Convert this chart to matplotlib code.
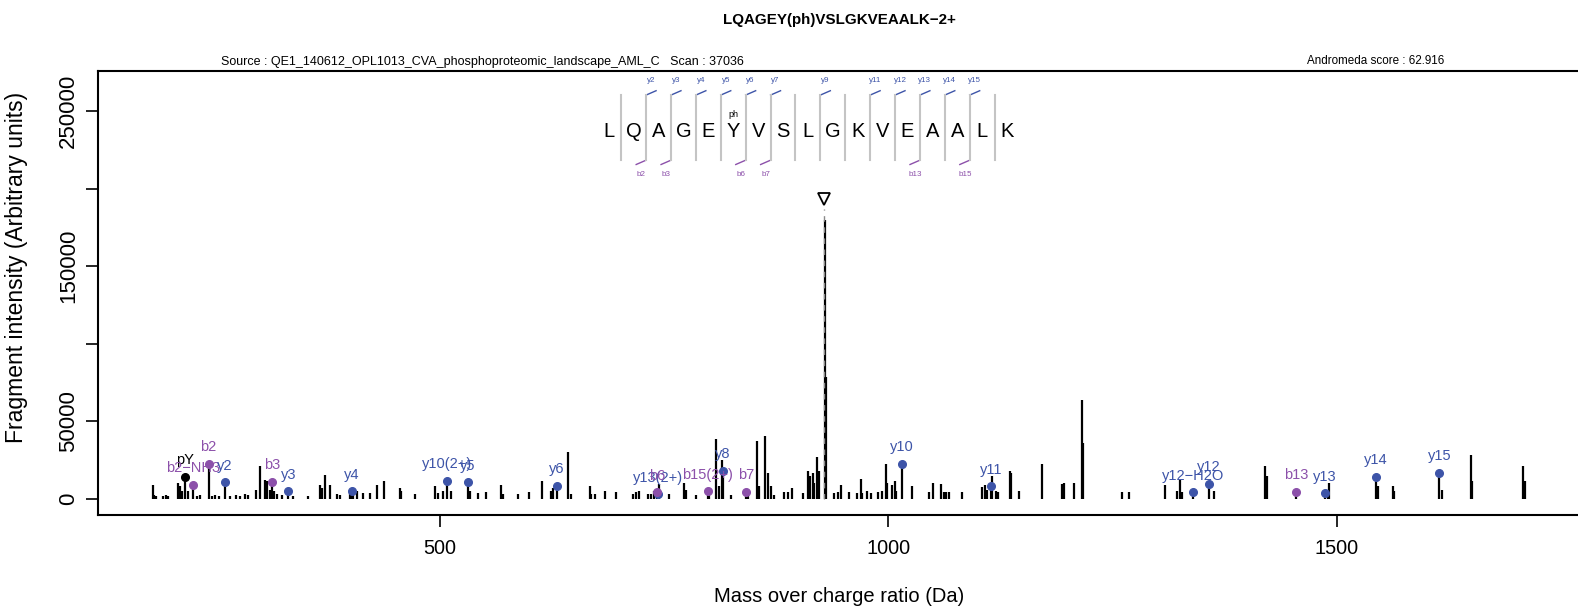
import matplotlib
matplotlib.use("Agg")
import matplotlib.pyplot as plt
import numpy as np

# 谱图峰：质荷比 (Da) 与强度
mz = [180.0, 181.5, 183.8, 191.9, 194.9, 197.5, 208.6, 210.5, 212.3, 216.04,
      219.8, 225.12, 229.0, 232.8, 242.15, 245.7, 249.5, 254.3, 260.20, 266.2,
      272.8, 277.3, 282.9, 286.6, 295.1, 299.6, 305.1, 307.0, 310.7, 313.19,
      315.2, 318.1, 323.7, 331.23, 336.7, 353.4, 366.4, 368.2, 371.9, 377.5,
      384.9, 388.7, 399.8, 402.27, 403.5, 407.2, 414.6, 422.1, 429.5, 438.0,
      455.5, 457.3, 472.2, 494.4, 498.2, 503.7, 508.31, 513.0, 531.31, 533.4,
      542.7, 552.0, 568.7, 570.5, 587.2, 599.5, 614.3, 624.4, 626.2, 630.38,
      642.9, 646.6, 667.1, 668.9, 672.6, 683.8, 696.7, 715.3, 719.0, 722.7,
      732.0, 735.7, 739.4, 742.28, 743.88, 744.6, 756.1, 772.8, 774.7, 785.8,
      798.89, 800.7, 808.1, 811.8, 814.4, 815.50, 824.8, 841.35, 843.4, 853.8,
      856.4, 863.0, 865.7, 869.4, 873.1, 884.2, 887.9, 892.7, 905.3, 910.2,
      912.8, 915.7, 917.6, 920.5, 923.1, 929.3, 930.3, 939.9, 943.6, 947.3,
      956.6, 965.8, 969.5, 971.4, 975.9, 980.7, 989.2, 993.7, 997.4, 999.2,
      1004.8, 1007.4, 1009.3, 1015.61, 1027.1, 1045.6, 1050.1, 1058.6, 1062.3, 1064.2,
      1067.9, 1082.8, 1105.0, 1107.6, 1110.6, 1114.68, 1116.2, 1119.9, 1122.8, 1135.8,
      1137.3, 1145.9, 1171.9, 1194.1, 1196.0, 1207.1, 1216.4, 1217.5, 1260.9, 1268.4,
      1309.2, 1322.2, 1325.2, 1327.8, 1339.70, 1357.71, 1363.0, 1420.5, 1422.4, 1454.69,
      1486.75, 1490.3, 1491.1, 1543.78, 1546.0, 1562.7, 1564.6, 1614.81, 1617.3, 1650.0,
      1651.4, 1708.2, 1710.1]
intensity = [8600, 2600, 1900, 1900, 2600, 1500, 10100, 8000, 4700, 14000,
             4700, 8800, 1900, 2600, 22400, 1900, 2600, 1900, 10500, 1900,
             2600, 1900, 3200, 2600, 5400, 20900, 12300, 11200, 5800, 11000,
             4700, 3200, 2600, 4700, 1900, 1900, 9000, 6900, 15500, 9000,
             3200, 2600, 5800, 4700, 5400, 4700, 3700, 3700, 9000, 11600,
             6900, 4700, 3200, 8000, 3700, 4700, 11400, 5200, 10500, 4700,
             3700, 4100, 9000, 3200, 3200, 4000, 11200, 4700, 6900, 8200,
             30100, 3200, 8400, 3200, 3200, 4700, 4100, 3200, 4100, 4700,
             3200, 3200, 4700, 4100, 2800, 9500, 3200, 10100, 5800, 2600,
             4700, 2600, 38500, 8000, 25200, 17700, 2600, 4500, 3200, 37000,
             8000, 40300, 16600, 8000, 2600, 4100, 4100, 6900, 3700, 17700,
             14400, 16600, 10100, 26900, 17700, 179800, 78600, 3700, 4100, 9000,
             4100, 3700, 12700, 3700, 4700, 3700, 4100, 4700, 22000, 10100,
             9000, 11200, 4700, 22400, 8000, 4100, 10100, 9700, 4100, 4100,
             4100, 4100, 7500, 9000, 5800, 8000, 14400, 4700, 4100, 17700,
             16600, 4700, 22600, 9700, 10100, 10100, 63500, 36000, 4300, 4300,
             9000, 4700, 11800, 4100, 4100, 9500, 5200, 21300, 14400, 4300,
             3400, 2600, 10100, 14200, 8000, 8400, 4700, 16400, 5800, 27800,
             11200, 21300, 11200]

# 已注释的碎片离子
ion_labels = ["pY", "b2\u2212NH3", "b2", "y2", "b3", "y3", "y4", "y10(2+)", "y5", "y6",
              "y13(2+)", "b6", "b15(2+)", "y8", "b7", "y10", "y11", "y12\u2212H2O", "y12",
              "b13", "y13", "y14", "y15"]
ion_mz = [216.04, 225.12, 242.15, 260.20, 313.19, 331.23, 402.27, 508.31, 531.31, 630.38,
          743.88, 742.28, 798.89, 815.50, 841.35, 1015.61, 1114.68, 1339.70, 1357.71,
          1454.69, 1486.75, 1543.78, 1614.81]
ion_int = [14000, 8800, 22400, 10500, 11000, 4700, 4700, 11400, 10500, 8200,
           2800, 4100, 4700, 17700, 4500, 22400, 8000, 4100, 9500,
           4300, 3400, 14200, 16400]
ion_kind = ["imm", "b", "b", "y", "b", "y", "y", "y", "y", "y",
            "y", "b", "b", "y", "b", "y", "y", "y", "y",
            "b", "y", "y", "y"]

# 肽段序列与覆盖
sequence = list("LQAGEYVSLGKVEAALK")
phospho_site = 5
y_cover = [2, 3, 4, 5, 6, 7, 9, 11, 12, 13, 14, 15]
b_cover = [2, 3, 6, 7, 13, 15]
precursor_mz = 928.48

title = "LQAGEY(ph)VSLGKVEAALK\u22122+"
source_text = "Source : QE1_140612_OPL1013_CVA_phosphoproteomic_landscape_AML_C   Scan : 37036"
score_text = "Andromeda score : 62.916"

blue = "#3D54A8"
purple = "#8C50AA"
kind_color = {"y": blue, "b": purple, "imm": "black"}

plt.rcParams['font.family'] = ['Liberation Sans', 'DejaVu Sans']

W, H = 1578, 611
fig = plt.figure(figsize=(W / 100, H / 100), dpi=100)
ax = fig.add_axes([97.9 / W, (H - 515) / H, 1481.9 / W, 443.5 / H])

# 峰
ax.vlines(mz, 0, intensity, color="black", lw=1.6, zorder=2)

# 前体离子标记
ax.vlines([precursor_mz], 0, 187000, color="#8A8A8A", lw=1.0,
          linestyles=(0, (4, 4)), zorder=3)
ax.plot([precursor_mz], [193200], marker="v", ms=9, mfc="white", mec="black",
        mew=1.3, zorder=4)

# 离子点与标签
for lab, x, y, k in zip(ion_labels, ion_mz, ion_int, ion_kind):
    c = kind_color[k]
    ax.plot([x], [y], "o", ms=5.5, color=c, zorder=5)
    ax.annotate(lab, (x, y), xytext=(0, 12), textcoords="offset points",
                ha="center", va="center", color=c, fontsize=10.5, zorder=6)

# 序列示意
x0, step = 688.5, 27.76
y_letter = 236600
y_lo, y_hi = 218300, 260300
dx = 11.1
for i, aa in enumerate(sequence):
    xc = x0 + i * step
    ax.text(xc, y_letter, aa, ha="center", va="center", fontsize=14.5, zorder=6)
    if i == phospho_site:
        ax.text(xc, 247700, "ph", ha="center", va="center", fontsize=6.5)
for k in range(1, len(sequence)):
    xs = x0 + (k - 0.5) * step
    ax.plot([xs, xs], [y_lo, y_hi], color="#C4C4C4", lw=1.5, zorder=3)
    if k in y_cover:
        ax.plot([xs, xs + dx], [y_hi, y_hi + 2800], color=blue, lw=1.0)
        ax.text(xs + dx / 2, 269600, "y%d" % k, ha="center", va="center",
                fontsize=5.8, color=blue)
    if k in b_cover:
        ax.plot([xs, xs - dx], [y_lo, y_lo - 2800], color=purple, lw=1.0)
        ax.text(xs - dx / 2, 209100, "b%d" % k, ha="center", va="center",
                fontsize=5.8, color=purple)

# 坐标轴
r = max(mz) - min(mz)
ax.set_xlim(min(mz) - 0.04 * r, max(mz) + 0.04 * r)
ax.set_ylim(-10600, 275500)
ax.set_xticks([500, 1000, 1500])
yt = [0, 50000, 100000, 150000, 200000, 250000]
ax.set_yticks(yt)
ax.set_yticklabels(["0", "50000", "", "150000", "", "250000"], rotation=90,
                   va="center", fontsize=16)
ax.tick_params(axis="x", length=8.6, width=1.2, pad=9, labelsize=14.3)
ax.tick_params(axis="y", length=8.6, width=1.2, pad=5)
for s in ax.spines.values():
    s.set_linewidth(1.5)

fig.text(838.9 / W, 1 - 597 / H, "Mass over charge ratio (Da)", ha="center",
         va="center", fontsize=14.5)
fig.text(17 / W, 1 - 267 / H, "Fragment intensity (Arbitrary units)", ha="center",
         va="center", rotation=90, fontsize=16.5)

fig.text(839 / W, 1 - 20 / H, title, ha="center", va="center", fontsize=10.9,
         weight="bold")
fig.text(221 / W, 1 - 61.5 / H, source_text, ha="left", va="center", fontsize=9.0)
fig.text(1444 / W, 1 - 61.5 / H, score_text, ha="right", va="center", fontsize=8.4)

fig.savefig("out.png", dpi=100)
